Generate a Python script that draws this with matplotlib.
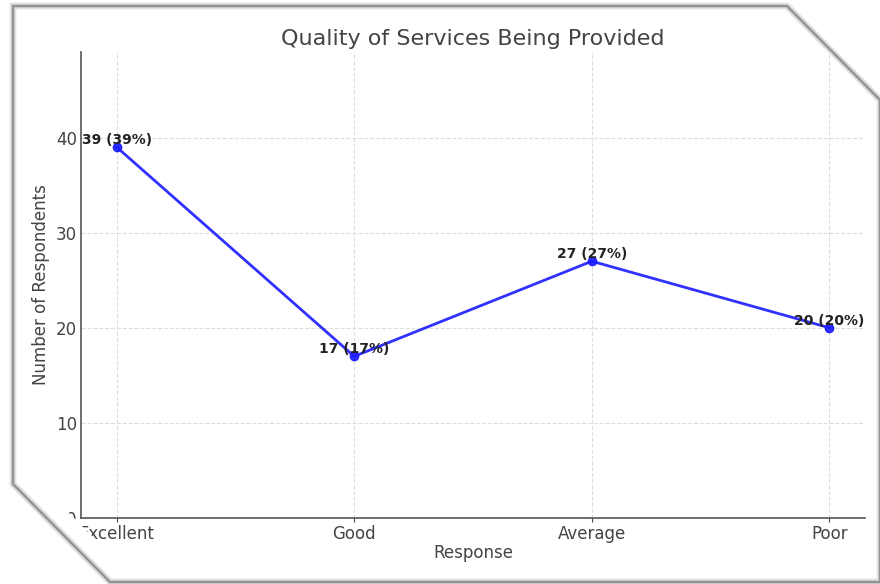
"""Line chart of survey responses on service quality."""

import matplotlib.pyplot as plt
from matplotlib.patches import Polygon

responses = ["Excellent", "Good", "Average", "Poor"]
counts = [39, 17, 27, 20]
percents = [39, 17, 27, 20]
y_ticks = [0, 10, 20, 30, 40]

W, H = 880, 584
TEXT = "#444444"


def px(x, y):
    # pixel position (from top-left) -> figure fraction
    return (x / W, 1 - y / H)


fig = plt.figure(figsize=(W / 100, H / 100), dpi=100)
fig.patch.set_facecolor("white")

# card outline with two clipped corners
card = [px(13, 6), px(787, 6), px(880, 100), px(880, 582), px(110, 582), px(13, 484)]
fig.patches.append(Polygon(card, closed=True, transform=fig.transFigure,
                           facecolor="white", edgecolor="none", zorder=-1))

ax = fig.add_axes([81 / W, 1 - 518 / H, (865 - 81) / W, (518 - 52) / H])
ax.set_facecolor("none")

x = range(len(responses))
ax.plot(x, counts, color="#1a1aff", linewidth=2, marker="o", markersize=6,
        alpha=0.9, zorder=3)
for xi, c, p in zip(x, counts, percents):
    ax.text(xi, c, f"{c} ({p}%)", ha="center", va="bottom",
            fontsize=10, fontweight="bold", color="#222222", zorder=4)

ax.set_xlim(-0.15, 3.15)
ax.set_ylim(0, 49)
ax.set_xticks(list(x))
ax.set_xticklabels(responses)
ax.set_yticks(y_ticks)
ax.tick_params(colors=TEXT, labelsize=12)
ax.tick_params(axis="x", length=3, pad=2)
ax.tick_params(axis="y", length=0, pad=3)
ax.grid(True, linestyle="--", color="#dddddd", linewidth=0.8)
ax.set_axisbelow(True)
for side in ("top", "right"):
    ax.spines[side].set_visible(False)
for side in ("left", "bottom"):
    ax.spines[side].set_color("#555555")
    ax.spines[side].set_linewidth(1.2)

ax.set_title("Quality of Services Being Provided", fontsize=16, color=TEXT, pad=5)
ax.set_xlabel("Response", fontsize=12, color=TEXT, labelpad=1)
ax.set_ylabel("Number of Respondents", fontsize=12, color=TEXT, labelpad=4)

# the card's inner clip along the lower-left diagonal
mask = [px(0, 444), px(140, 584), px(0, 584)]
fig.patches.append(Polygon(mask, closed=True, transform=fig.transFigure,
                           facecolor="white", edgecolor="none", zorder=5))

# soft shadowed edge of the card
for lw, col in ((5, "#e6e6e6"), (3, "#c8c8c8"), (1.2, "#8a8a8a")):
    fig.patches.append(Polygon(card, closed=True, transform=fig.transFigure,
                               facecolor="none", edgecolor=col, linewidth=lw,
                               joinstyle="miter", zorder=6))

fig.savefig("out.png", dpi=100)
